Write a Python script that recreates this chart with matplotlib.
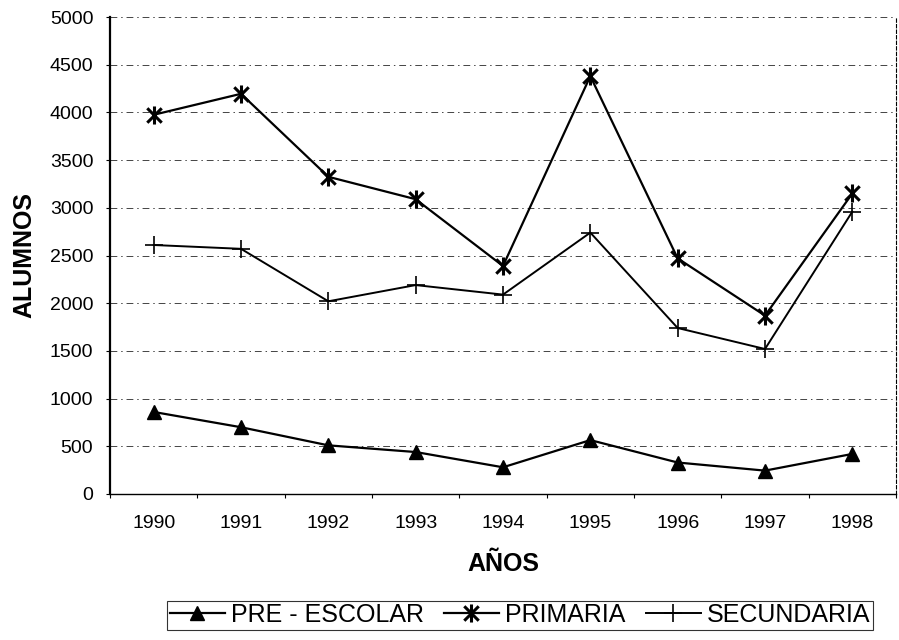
import numpy as np
import matplotlib.pyplot as plt
from matplotlib.path import Path
from matplotlib.ticker import FixedLocator

plt.rcParams['font.family'] = ['Liberation Sans', 'DejaVu Sans']

# datos
anios = ['1990', '1991', '1992', '1993', '1994', '1995', '1996', '1997', '1998']
pre_escolar = [860, 700, 510, 440, 280, 565, 330, 245, 420]
primaria = [3975, 4195, 3325, 3090, 2390, 4380, 2470, 1870, 3150]
secundaria = [2610, 2570, 2020, 2190, 2090, 2740, 1740, 1520, 2960]
yticks = [0, 500, 1000, 1500, 2000, 2500, 3000, 3500, 4000, 4500, 5000]

# asterisco: X con barra vertical
ast = Path([(0, -1), (0, 1), (-0.8, -0.8), (0.8, 0.8), (-0.8, 0.8), (0.8, -0.8)],
           [Path.MOVETO, Path.LINETO, Path.MOVETO, Path.LINETO, Path.MOVETO, Path.LINETO])

fig = plt.figure(figsize=(8.99, 6.4), dpi=100)
ax = fig.add_axes([110/899, 1-494/640, 786/899, 477/640])

x = np.arange(len(anios))
ax.plot(x, pre_escolar, c='k', lw=1.6, marker='^', ms=10, label='PRE - ESCOLAR')
ax.plot(x, primaria, c='k', lw=1.6, marker=ast, ms=13, mew=2.2, label='PRIMARIA')
ax.plot(x, secundaria, c='k', lw=1.4, marker='+', ms=13, mew=1.2, label='SECUNDARIA')

ax.set_xlim(-0.5, len(anios)-0.5)
ax.set_ylim(0, 5000)
ax.set_yticks(yticks)
ax.set_xticks(x)
ax.set_xticklabels(anios)
ax.xaxis.set_minor_locator(FixedLocator(np.arange(-0.5, len(anios), 1.0)))
ax.tick_params(axis='x', which='major', length=0, pad=15, labelsize=14)
ax.tick_params(axis='x', which='minor', direction='out', length=3, width=0.8)
ax.tick_params(axis='y', direction='out', length=3, width=0.8, pad=9, labelsize=14)

for v in yticks[1:]:
    ax.axhline(v, color='#444444', lw=0.7, dashes=(7, 4, 1.5, 4), zorder=0)

ax.spines['left'].set_linewidth(1.6)
ax.spines['bottom'].set_linewidth(1.0)
ax.spines['top'].set_visible(False)
ax.spines['right'].set_linestyle((0, (3, 2)))
ax.spines['right'].set_linewidth(0.8)

ax.set_ylabel('ALUMNOS', fontsize=18, fontweight='bold')
ax.yaxis.set_label_coords(-0.094, 0.5)
ax.set_xlabel('AÑOS', fontsize=18, fontweight='bold')
ax.xaxis.set_label_coords(0.5, -0.122)

leg = fig.legend(loc='center', bbox_to_anchor=(520/899, 1-615/640), ncol=3,
                 fontsize=18, frameon=True, fancybox=False, edgecolor='k',
                 handlelength=2.2, handletextpad=0.25, columnspacing=0.8,
                 borderpad=0.1, borderaxespad=0)
leg.get_frame().set_linewidth(0.8)

fig.savefig('out.png', dpi=100)
